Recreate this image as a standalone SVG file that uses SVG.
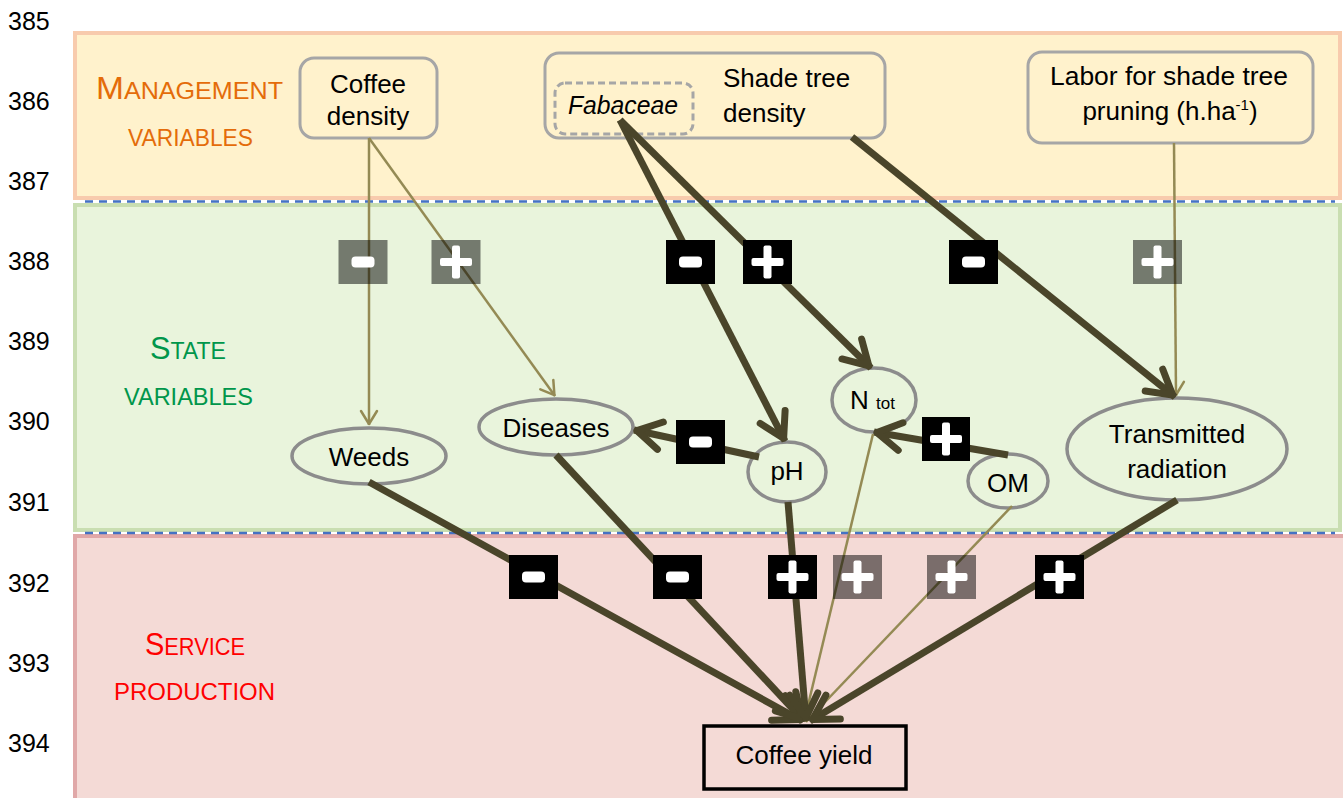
<svg xmlns="http://www.w3.org/2000/svg" width="1343" height="798" viewBox="0 0 1343 798">
<style>
text{font-family:"Liberation Sans",Arial,sans-serif;fill:#000}
.num{font-size:25px}
.lbl{font-size:26px;text-anchor:middle}
.node{fill:#FFF2CC;stroke:#A6A6A6;stroke-width:3}
.ell{fill:#E9F4DC;stroke:#8C8C8C;stroke-width:3.5}
.thick{stroke:#4A452A;stroke-width:7;fill:none}
.thin{stroke:#948A54;stroke-width:2.5;fill:none}
.dash{stroke:#4472C4;stroke-width:2.5;stroke-dasharray:8 6}
.bb{fill:#000}
.gb{fill:#000;fill-opacity:.5}
.mg{fill:#E46C0A}
.st{fill:#00964B}
.sv{fill:#FF0000}
</style>
<defs>
<marker id="ahThick" markerUnits="userSpaceOnUse" viewBox="-30 -20 36 40" markerWidth="36" markerHeight="40" refX="3" refY="0" orient="auto" overflow="visible">
<path d="M-24,-14 L0,0 L-24,14" fill="none" stroke="#4A452A" stroke-width="7" stroke-linecap="round" stroke-linejoin="round"/>
</marker>
<marker id="ahThin" markerUnits="userSpaceOnUse" viewBox="-16 -10 20 20" markerWidth="20" markerHeight="20" refX="1" refY="0" orient="auto" overflow="visible">
<path d="M-13,-8 L0,0 L-13,8" fill="none" stroke="#948A54" stroke-width="2.5" stroke-linecap="round" stroke-linejoin="round"/>
</marker>
<g id="plus"><rect x="-16" y="-4" width="32" height="8" rx="2" fill="#fff"/><rect x="-4" y="-16.5" width="8" height="33" rx="2" fill="#fff"/></g>
<g id="minus"><rect x="-11.5" y="-5.5" width="23" height="11" rx="4" fill="#fff"/></g>
</defs>

<g id="bands">
<rect x="75" y="33" width="1265" height="165" fill="#FFF2CC" stroke="#F8CBAD" stroke-width="4"/>
<rect x="75" y="205" width="1265" height="325" fill="#E9F4DC" stroke="#C9DEB1" stroke-width="4"/>
<rect x="75" y="536" width="1270" height="270" fill="#F4DAD6" stroke="#E0A8A8" stroke-width="4"/>
<line class="dash" x1="85" y1="201.5" x2="1335" y2="201.5"/>
<line class="dash" x1="85" y1="533" x2="1335" y2="533"/>
</g>

<g id="axis">
<text class="num" x="8" y="30">385</text>
<text class="num" x="8" y="110">386</text>
<text class="num" x="8" y="190">387</text>
<text class="num" x="8" y="270">388</text>
<text class="num" x="8" y="350">389</text>
<text class="num" x="8" y="430">390</text>
<text class="num" x="8" y="511">391</text>
<text class="num" x="8" y="592">392</text>
<text class="num" x="8" y="672">393</text>
<text class="num" x="8" y="752">394</text>
</g>

<g id="band-titles">
<text class="mg" x="96" y="99" textLength="187" lengthAdjust="spacingAndGlyphs"><tspan font-size="32">M</tspan><tspan font-size="24">ANAGEMENT</tspan></text>
<text class="mg" x="128" y="146" font-size="24" textLength="125" lengthAdjust="spacingAndGlyphs">VARIABLES</text>
<text class="st" x="150" y="359" textLength="76" lengthAdjust="spacingAndGlyphs"><tspan font-size="32">S</tspan><tspan font-size="24">TATE</tspan></text>
<text class="st" x="124" y="405" font-size="24" textLength="129" lengthAdjust="spacingAndGlyphs">VARIABLES</text>
<text class="sv" x="145" y="655" textLength="100" lengthAdjust="spacingAndGlyphs"><tspan font-size="32">S</tspan><tspan font-size="24">ERVICE</tspan></text>
<text class="sv" x="114" y="700" font-size="24" textLength="161" lengthAdjust="spacingAndGlyphs">PRODUCTION</text>
</g>

<g id="coffee-density">
<rect class="node" x="300" y="58" width="137" height="80" rx="14"/>
<text class="lbl" x="368" y="93">Coffee</text>
<text class="lbl" x="368" y="125">density</text>
</g>

<g id="shade-tree-density">
<rect class="node" x="545" y="53" width="340" height="85" rx="14"/>
<text x="723" y="87" font-size="26">Shade tree</text>
<text x="723" y="122" font-size="26">density</text>
</g>

<g id="fabaceae">
<rect x="555" y="83" width="138" height="51" rx="10" fill="none" stroke="#A6A6A6" stroke-width="3" stroke-dasharray="7 4"/>
<text x="568" y="114" font-size="25" font-style="italic" textLength="110" lengthAdjust="spacingAndGlyphs">Fabaceae</text>
</g>

<g id="labor">
<rect class="node" x="1028" y="52" width="285" height="91" rx="14"/>
<text class="lbl" x="1169" y="85" textLength="238" lengthAdjust="spacingAndGlyphs">Labor for shade tree</text>
<text class="lbl" x="1170" y="120">pruning (h.ha<tspan font-size="15" dy="-10">-1</tspan><tspan dy="10">)</tspan></text>
</g>

<g id="weeds">
<ellipse class="ell" cx="369" cy="456" rx="77" ry="28"/>
<text class="lbl" x="369" y="466">Weeds</text>
</g>

<g id="diseases">
<ellipse class="ell" cx="556" cy="427" rx="77" ry="28"/>
<text class="lbl" x="556" y="437">Diseases</text>
</g>

<g id="ph">
<ellipse class="ell" cx="787" cy="472" rx="39" ry="30"/>
<text class="lbl" x="787" y="480">pH</text>
</g>

<g id="ntot">
<ellipse class="ell" cx="874" cy="400" rx="42" ry="32"/>
<text x="850" y="409" font-size="26">N <tspan font-size="17">tot</tspan></text>
</g>

<g id="om">
<ellipse class="ell" cx="1008" cy="481" rx="40" ry="27"/>
<text class="lbl" x="1008" y="492">OM</text>
</g>

<g id="transmitted-radiation">
<ellipse class="ell" cx="1177" cy="449" rx="110" ry="51"/>
<text class="lbl" x="1177" y="443">Transmitted</text>
<text class="lbl" x="1177" y="478">radiation</text>
</g>

<g id="coffee-yield">
<rect x="704" y="726" width="202" height="63" fill="none" stroke="#000" stroke-width="3.5"/>
<text class="lbl" x="804" y="764">Coffee yield</text>
</g>

<g id="connectors">
<line class="thin" x1="369" y1="138" x2="369" y2="425" marker-end="url(#ahThin)"/>
<line class="thin" x1="369" y1="138" x2="555" y2="396" marker-end="url(#ahThin)"/>
<line class="thin" x1="1174" y1="143" x2="1176" y2="396" marker-end="url(#ahThin)"/>
<line class="thick" x1="620" y1="120" x2="785" y2="441" marker-end="url(#ahThick)"/>
<line class="thick" x1="620" y1="120" x2="871" y2="368" marker-end="url(#ahThick)"/>
<line class="thick" x1="852" y1="137" x2="1175" y2="397" marker-end="url(#ahThick)"/>
<line class="thick" x1="759" y1="457" x2="634" y2="430" marker-end="url(#ahThick)"/>
<line class="thick" x1="1008" y1="455" x2="874" y2="432" marker-end="url(#ahThick)"/>
<line class="thin" x1="873" y1="434" x2="804" y2="722"/>
<line class="thin" x1="1012" y1="506" x2="806" y2="722"/>
<line class="thick" x1="369" y1="482" x2="802" y2="721" marker-end="url(#ahThick)"/>
<line class="thick" x1="556" y1="455" x2="804" y2="721" marker-end="url(#ahThick)"/>
<line class="thick" x1="788" y1="502" x2="806" y2="721" marker-end="url(#ahThick)"/>
<line class="thick" x1="1177" y1="500" x2="810" y2="721" marker-end="url(#ahThick)"/>
</g>

<g id="signs">
<rect class="gb" x="338.5" y="240" width="49" height="44"/><use href="#minus" x="363" y="262"/>
<rect class="gb" x="431.5" y="240" width="49" height="44"/><use href="#plus" x="456" y="262"/>
<rect class="bb" x="666" y="240" width="49" height="44"/><use href="#minus" x="690.5" y="262"/>
<rect class="bb" x="743" y="240" width="49" height="44"/><use href="#plus" x="767.5" y="262"/>
<rect class="bb" x="949" y="240" width="49" height="44"/><use href="#minus" x="973.5" y="262"/>
<rect class="gb" x="1133" y="240" width="49" height="44"/><use href="#plus" x="1157.5" y="262"/>
<rect class="bb" x="676" y="420" width="49" height="44"/><use href="#minus" x="700.5" y="442"/>
<rect class="bb" x="922" y="417" width="48" height="44"/><use href="#plus" x="946" y="439"/>
<rect class="bb" x="509" y="555" width="49" height="44"/><use href="#minus" x="533.5" y="577"/>
<rect class="bb" x="653" y="555" width="49" height="44"/><use href="#minus" x="677.5" y="577"/>
<rect class="bb" x="768" y="555" width="49" height="44"/><use href="#plus" x="792.5" y="577"/>
<rect class="gb" x="833" y="555" width="49" height="44"/><use href="#plus" x="857.5" y="577"/>
<rect class="gb" x="927" y="555" width="49" height="44"/><use href="#plus" x="951.5" y="577"/>
<rect class="bb" x="1035" y="555" width="49" height="44"/><use href="#plus" x="1059.5" y="577"/>
</g>
</svg>
